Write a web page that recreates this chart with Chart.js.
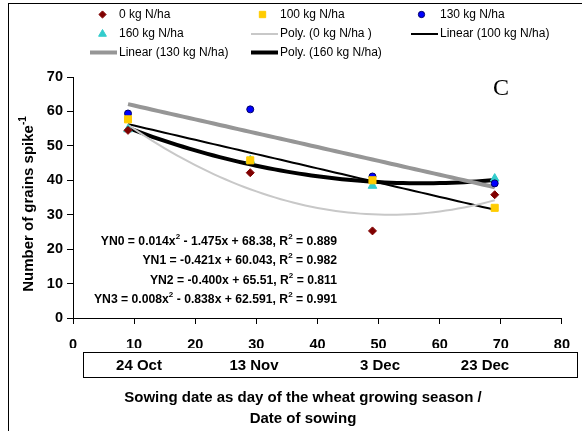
<!DOCTYPE html>
<html>
<head>
<meta charset="utf-8">
<script src="https://cdn.jsdelivr.net/npm/chart.js@4.4.0/dist/chart.umd.min.js"></script>
<style>
  html, body { margin: 0; padding: 0; background: #fff; }
  canvas { display: block; }
</style>
</head>
<body>
<canvas id="grains" width="582" height="431"></canvas>
<script>
// grains per spike against sowing day, four N rates
const sowingDay = [9, 29, 49, 69];
const sowingDates = ['24 Oct', '13 Nov', '3 Dec', '23 Dec'];
const grainsN0 = [54.5, 42.2, 25.3, 35.8];
const grainsN100 = [57.7, 45.8, 40.0, 32.0];
const grainsN130 = [59.4, 60.6, 41.1, 39.1];
const grainsN160 = [54.8, 45.8, 38.4, 40.5];
const xTickValues = [0, 10, 20, 30, 40, 50, 60, 70, 80];
const yTickValues = [0, 10, 20, 30, 40, 50, 60, 70];

// regression text, pieces alternate normal / superscript
const equations = [
  ['YN0 = 0.014x', '2', ' - 1.475x + 68.38, R', '2', ' = 0.889'],
  ['YN1 = -0.421x + 60.043, R', '2', ' = 0.982'],
  ['YN2 = -0.400x + 65.51, R', '2', ' = 0.811'],
  ['YN3 = 0.008x', '2', ' - 0.838x + 62.591, R', '2', ' = 0.991']
];

const FONT = '"Liberation Sans", Arial, sans-serif';

// least squares polynomial, same as a spreadsheet trendline
function polyFit(xs, ys, degree) {
  const n = degree + 1;
  const A = Array.from({ length: n }, () => new Array(n + 1).fill(0));
  for (let i = 0; i < xs.length; i++) {
    for (let r = 0; r < n; r++) {
      for (let c = 0; c < n; c++) A[r][c] += Math.pow(xs[i], r + c);
      A[r][n] += ys[i] * Math.pow(xs[i], r);
    }
  }
  for (let p = 0; p < n; p++) {
    let best = p;
    for (let r = p + 1; r < n; r++) if (Math.abs(A[r][p]) > Math.abs(A[best][p])) best = r;
    [A[p], A[best]] = [A[best], A[p]];
    for (let r = 0; r < n; r++) {
      if (r === p) continue;
      const f = A[r][p] / A[p][p];
      for (let c = p; c <= n; c++) A[r][c] -= f * A[p][c];
    }
  }
  return A.map((row, i) => row[n] / row[i]);
}

function trendPoints(ys, degree) {
  const coef = polyFit(sowingDay, ys, degree);
  const pts = [];
  const x0 = sowingDay[0], x1 = sowingDay[sowingDay.length - 1];
  for (let x = x0; x <= x1; x += 1) {
    pts.push({ x: x, y: coef.reduce((s, c, i) => s + c * Math.pow(x, i), 0) });
  }
  return pts;
}

const toPoints = ys => sowingDay.map((x, i) => ({ x: x, y: ys[i] }));

function markerSet(label, ys, m) {
  return {
    label: label,
    data: toPoints(ys),
    showLine: false,
    pointStyle: m.style,
    pointRadius: m.radius,
    pointBackgroundColor: m.fill,
    pointBorderColor: m.border,
    pointBorderWidth: 1
  };
}

function trendSet(label, ys, degree, s) {
  return {
    label: label,
    data: trendPoints(ys, degree),
    showLine: true,
    pointRadius: 0,
    borderColor: s.color,
    borderWidth: s.width,
    tension: 0,
    fill: false
  };
}

const markers = {
  n0: { style: 'rectRot', radius: 4, fill: '#800000', border: '#800000' },
  n100: { style: 'rect', radius: 5, fill: '#FFCC00', border: '#FFCC00' },
  n130: { style: 'circle', radius: 3.5, fill: '#0000FF', border: '#000066' },
  n160: { style: 'triangle', radius: 5, fill: '#33CCCC', border: '#33CCCC' }
};
const trendStyles = {
  poly0: { color: '#C8C8C8', width: 2 },
  lin100: { color: '#000000', width: 2 },
  lin130: { color: '#969696', width: 4 },
  poly160: { color: '#000000', width: 4 }
};

// legend, axis titles, date strip, equations and panel letter
const decorations = {
  id: 'decorations',
  afterDraw(chart) {
    const ctx = chart.ctx;
    ctx.save();

    // outer frame
    ctx.strokeStyle = '#000';
    ctx.lineWidth = 1;
    ctx.strokeRect(8.5, 3.5, 700, 600);

    // legend
    ctx.font = '12px ' + FONT;
    ctx.fillStyle = '#000';
    ctx.textBaseline = 'middle';
    ctx.textAlign = 'left';
    const rows = [14.5, 34, 52.5];
    const cols = [{ mark: 102.5, line: [90, 117], text: 119 },
                  { mark: 262.5, line: [251, 278], text: 280 },
                  { mark: 421.5, line: [411, 438], text: 440 }];
    const items = [
      { kind: 'mark', m: markers.n0, text: '0 kg N/ha' },
      { kind: 'mark', m: markers.n100, text: '100 kg N/ha' },
      { kind: 'mark', m: markers.n130, text: '130 kg N/ha' },
      { kind: 'mark', m: markers.n160, text: '160 kg N/ha' },
      { kind: 'line', s: trendStyles.poly0, text: 'Poly. (0 kg N/ha )' },
      { kind: 'line', s: trendStyles.lin100, text: 'Linear (100 kg N/ha)' },
      { kind: 'line', s: trendStyles.lin130, text: 'Linear (130 kg N/ha)' },
      { kind: 'line', s: trendStyles.poly160, text: 'Poly. (160 kg N/ha)' }
    ];
    items.forEach((it, i) => {
      const col = cols[i % 3];
      const y = rows[Math.floor(i / 3)];
      if (it.kind === 'mark') {
        ctx.fillStyle = it.m.fill;
        ctx.strokeStyle = it.m.border;
        ctx.lineWidth = 1;
        Chart.helpers.drawPoint(ctx, { pointStyle: it.m.style, radius: it.m.radius * 0.9, rotation: 0, borderWidth: 1 }, col.mark, y);
      } else {
        ctx.strokeStyle = it.s.color;
        ctx.lineWidth = it.s.width;
        ctx.beginPath();
        ctx.moveTo(col.line[0], y);
        ctx.lineTo(col.line[1], y);
        ctx.stroke();
      }
      ctx.fillStyle = '#000';
      ctx.fillText(it.text, col.text, y);
    });

    // panel letter
    ctx.font = '24px "Liberation Serif", "Times New Roman", serif';
    ctx.textAlign = 'center';
    ctx.fillText('C', 501, 89);

    // y axis title with superscript
    ctx.translate(29, 204);
    ctx.rotate(-Math.PI / 2);
    ctx.font = 'bold 15px ' + FONT;
    const main = 'Number of grains spike';
    const wMain = ctx.measureText(main).width;
    ctx.font = 'bold 10px ' + FONT;
    const wSup = ctx.measureText('-1').width;
    const start = -(wMain + wSup) / 2;
    ctx.textAlign = 'left';
    ctx.font = 'bold 15px ' + FONT;
    ctx.fillText(main, start, 0);
    ctx.font = 'bold 10px ' + FONT;
    ctx.fillText('-1', start + wMain, -6);
    ctx.setTransform(1, 0, 0, 1, 0, 0);

    // regression equations, right aligned
    const eqRight = 337;
    const eqRows = [242, 261, 280.5, 300];
    const eqFont = k => (k % 2 ? 'bold 8px ' : 'bold 12.2px ') + FONT;
    equations.forEach((parts, r) => {
      let total = 0;
      parts.forEach((p, k) => {
        ctx.font = eqFont(k);
        total += ctx.measureText(p).width;
      });
      let x = eqRight - total;
      parts.forEach((p, k) => {
        ctx.font = eqFont(k);
        ctx.fillText(p, x, eqRows[r] + (k % 2 ? -5 : 0));
        x += ctx.measureText(p).width;
      });
    });

    // date strip under the axis
    ctx.strokeStyle = '#000';
    ctx.lineWidth = 1;
    ctx.strokeRect(83.5, 352.5, 494, 25);
    ctx.font = 'bold 15px ' + FONT;
    ctx.textAlign = 'center';
    const dateCentres = [139, 254, 380, 485];
    sowingDates.forEach((d, i) => ctx.fillText(d, dateCentres[i], 365.5));

    // x axis title
    ctx.fillText('Sowing date as day of the wheat growing season /', 303, 397.5);
    ctx.fillText('Date of sowing', 303, 418.5);

    ctx.restore();
  }
};

new Chart(document.getElementById('grains'), {
  type: 'scatter',
  data: {
    datasets: [
      markerSet('0 kg N/ha', grainsN0, markers.n0),
      markerSet('100 kg N/ha', grainsN100, markers.n100),
      markerSet('130 kg N/ha', grainsN130, markers.n130),
      markerSet('160 kg N/ha', grainsN160, markers.n160),
      trendSet('Poly. (0 kg N/ha )', grainsN0, 2, trendStyles.poly0),
      trendSet('Linear (100 kg N/ha)', grainsN100, 1, trendStyles.lin100),
      trendSet('Linear (130 kg N/ha)', grainsN130, 1, trendStyles.lin130),
      trendSet('Poly. (160 kg N/ha)', grainsN160, 2, trendStyles.poly160)
    ]
  },
  options: {
    responsive: false,
    animation: false,
    layout: { padding: { left: 0, top: 77, right: 19, bottom: 83 } },
    plugins: {
      legend: { display: false },
      tooltip: { enabled: false }
    },
    scales: {
      x: {
        type: 'linear',
        min: 0,
        max: 80,
        afterBuildTicks: s => { s.ticks = xTickValues.map(v => ({ value: v })); },
        afterFit: s => { s.height = 30; },
        grid: { drawOnChartArea: false, drawTicks: true, tickLength: 6, color: '#000' },
        border: { color: '#000', width: 1 },
        ticks: { color: '#000', padding: 12, maxRotation: 0, font: { family: FONT, size: 14.5, weight: 'bold' } }
      },
      y: {
        min: 0,
        max: 70,
        afterBuildTicks: s => { s.ticks = yTickValues.map(v => ({ value: v })); },
        afterFit: s => { s.width = 73; },
        grid: { drawOnChartArea: false, drawTicks: true, tickLength: 6, color: '#000' },
        border: { color: '#000', width: 1 },
        ticks: { color: '#000', padding: 4, font: { family: FONT, size: 14.5, weight: 'bold' } }
      }
    }
  },
  plugins: [decorations]
});
</script>
</body>
</html>
